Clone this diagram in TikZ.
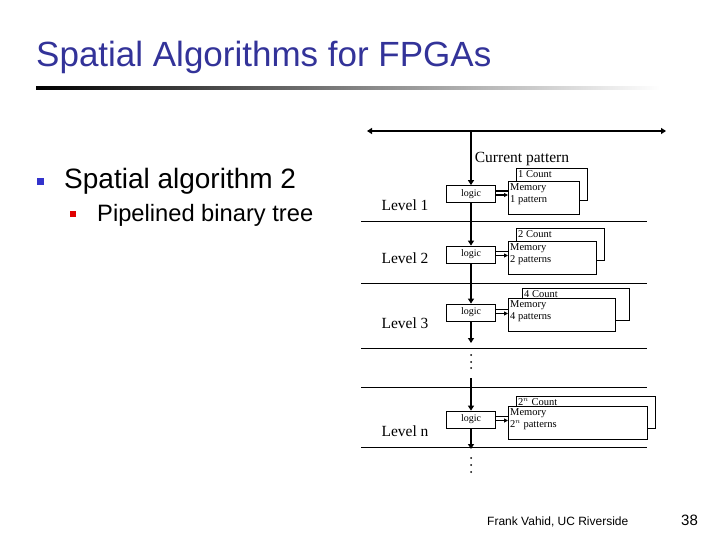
\documentclass[tikz,border=0pt]{standalone}
\usepackage{fontspec}
\setmainfont{Liberation Serif}
\setsansfont{Liberation Sans}
\usepackage{xcolor}
\usepackage{tikz}
\usetikzlibrary{arrows.meta, positioning}
\definecolor{titleblue}{HTML}{333399}
\definecolor{bulletblue}{HTML}{3333CC}
\definecolor{bulletred}{HTML}{E00000}

\begin{document}
\begin{tikzpicture}[x=1pt, y=-1pt,
  logicbox/.style={draw, fill=white, line width=0.8pt, minimum width=49pt,
    minimum height=17pt, inner sep=0pt, font=\fontsize{10}{10}\selectfont},
  membox/.style={draw, fill=white, line width=0.8pt, anchor=north west, inner sep=0pt},
  boxtext/.style={font=\fontsize{10.5}{12}\selectfont, align=left, inner sep=2pt,
    anchor=north west},
  lvl/.style={font=\fontsize{15.5}{16}\selectfont},
  sepline/.style={line width=1pt},
  flow/.style={line width=2.2pt, -{Triangle[length=5pt, width=6pt]}},
  feed/.style={line width=1.2pt, -{Triangle[length=4pt, width=4pt]}}]
  \useasboundingbox (0,0) rectangle (720,540);

  % ---- Slide title and bullets ----
  \node[anchor=base west, text=titleblue, inner sep=0pt,
        font=\sffamily\fontsize{35}{35}\selectfont] (title) at (36,67)
        {Spatial Algorithms for FPGAs};
  \shade[left color=black, right color=white] (36,86.5) rectangle (660,89.5);
  \fill[bulletblue] (37,178) rectangle (44,185);
  \node[anchor=base west, inner sep=0pt, font=\sffamily\fontsize{28}{28}\selectfont]
        (algo) at (64,189) {Spatial algorithm 2};
  \fill[bulletred] (70,211) rectangle (76,217);
  \node[anchor=base west, inner sep=0pt, font=\sffamily\fontsize{23.7}{24}\selectfont]
        (tree) at (97,222) {Pipelined binary tree};

  % ---- Pipeline levels ----
  \foreach \y in {222,283,348,387,447}
    \draw[sepline] (361,\y) -- (647,\y);
  \draw[line width=2.2pt, {Triangle[length=5pt, width=6pt]}-{Triangle[length=5pt, width=6pt]}]
    (367,131) -- (666,131);
  \coordinate (bus) at (471,131);
  \node[lvl] (cur) at (522,159) {Current pattern};

  \node[lvl] (lvl1) at (405,205) {Level 1};
  \node[lvl] (lvl2) at (405,258) {Level 2};
  \node[lvl] (lvl3) at (405,323) {Level 3};
  \node[lvl] (lvln) at (405,431) {Level n};

  \node[logicbox] (logic1) at (471,194) {logic};
  \node[logicbox] (logic2) at (471,254.5) {logic};
  \node[logicbox] (logic3) at (471,312.5) {logic};
  \node[logicbox] (logicn) at (471,419.5) {logic};

  % vertical data path
  \coordinate (end3) at (471,343);
  \coordinate (startn) at (471,378);
  \coordinate (endn) at (471,449);
  \draw[flow] (bus) -- (logic1.north);
  \draw[flow] (logic1.south) -- (logic2.north);
  \draw[flow] (logic2.south) -- (logic3.north);
  \draw[flow] (logic3.south) -- (end3);
  \draw[flow] (startn) -- (logicn.north);
  \draw[flow] (logicn.south) -- (endn);
  \foreach \y in {355,362,368,458,465,472}
    \fill (471,\y) circle (1pt);

  % ---- Count / memory blocks ----
  \foreach \n/\cx/\cy/\my/\w/\cnt/\pat in
      {1/516/168/181/71/1/1 pattern, 2/516/228/241/88/2/2 patterns,
       3/522/288/298/107/4/4 patterns, n/516/396/406/139/2$^n$/2$^n$ patterns} {
    \node[membox, minimum width=\w pt, minimum height=32pt] (cnt\n) at (\cx,\cy) {};
    \node[boxtext] at (cnt\n.north west) {\cnt{} Count};
    \node[membox, minimum width=\w pt, minimum height=33pt] (mem\n) at (508,\my) {};
    \node[boxtext] at (mem\n.north west) {Memory\\\pat};
  }

  % logic to memory
  \foreach \n in {1,2,3,n} {
    \draw[line width=1.2pt] ([yshift=3pt]logic\n.east) -- ([yshift=3pt]logic\n.east -| mem\n.west);
    \draw[feed] ([yshift=-1pt]logic\n.east) -- ([yshift=-1pt]logic\n.east -| mem\n.west);
  }

  % ---- Footer ----
  \node[anchor=base west, inner sep=0pt, font=\sffamily\fontsize{12}{12}\selectfont]
        (author) at (487,525) {Frank Vahid, UC Riverside};
  \node[anchor=base west, inner sep=0pt, font=\sffamily\fontsize{15}{15}\selectfont]
        (page) at (681,525) {38};
\end{tikzpicture}
\end{document}
